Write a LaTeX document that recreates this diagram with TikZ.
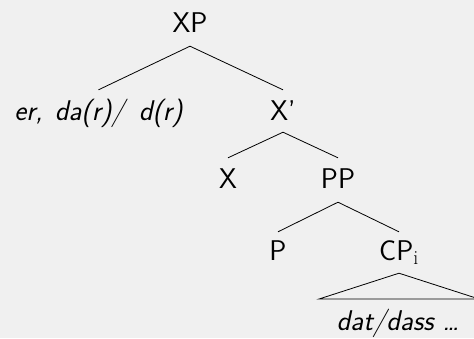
\documentclass[tikz,border=0pt]{standalone}
\usepackage{fontspec}
\begin{document}
\begin{tikzpicture}[x=1pt,y=-1pt,
  lbl/.style={anchor=base,inner xsep=0pt,inner ysep=0pt,text height=20pt,text depth=0pt,
    font=\fontsize{28.5}{32}\selectfont\sffamily},
  word/.style={lbl,font=\fontsize{28.5}{32}\selectfont\sffamily\itshape},
  branch/.style={line width=0.8pt,black}]
  % canvas
  \fill[fill={rgb,255:red,240;green,240;blue,240}] (0,0) rectangle (474,338);
  \useasboundingbox (0,0) rectangle (474,338);

  % tree nodes (placed at their baselines)
  \node[lbl]  (xp)  at (190,32)  {XP};
  \node[word] (spec) at (98.5,120) {er,\hspace{3pt} da(r)/\hspace{5pt} d(r)};
  \node[lbl]  (xbar) at (283,120) {X'};
  \node[lbl]  (x)   at (228,188) {X};
  \node[lbl]  (pp)  at (338,188) {PP};
  \node[lbl]  (p)   at (278,260) {P};
  \node[lbl]  (cp)  at (399,260) {CP$_{\mathrm{i}}$};
  \node[word] (dat) at (398,330) {dat/dass \ldots};

  % branches
  \draw[branch] ([yshift=-14pt]xp.south) -- ([yshift=10pt]spec.north);
  \draw[branch] ([yshift=-14pt]xp.south) -- ([yshift=10pt]xbar.north);
  \draw[branch] ([yshift=-12pt]xbar.south) -- ([yshift=10pt]x.north);
  \draw[branch] ([yshift=-12pt]xbar.south) -- ([yshift=10pt]pp.north);
  \draw[branch] ([yshift=-14pt]pp.south) -- ([yshift=8pt]p.north);
  \draw[branch] ([yshift=-14pt]pp.south) -- ([yshift=8pt]cp.north);

  % roof over the CP
  \coordinate (roofl) at (319,299);
  \coordinate (roofr) at (479,299);
  \draw[branch,line join=miter] ([yshift=-13pt]cp.south) -- (roofl) -- (roofr) -- cycle;
\end{tikzpicture}
\end{document}
